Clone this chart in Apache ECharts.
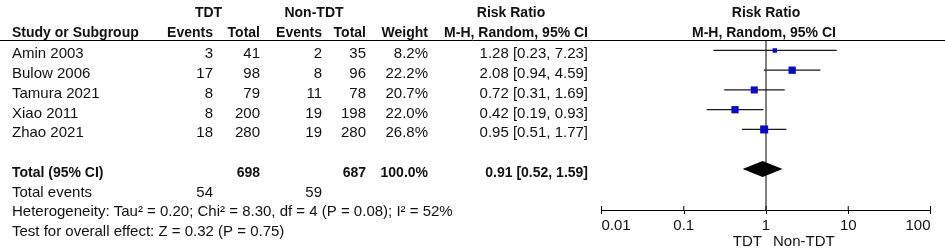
<!DOCTYPE html>
<html>
<head>
<meta charset="utf-8">
<script src="https://cdn.jsdelivr.net/npm/echarts@6/dist/echarts.min.js"></script>
<style>
html,body{margin:0;padding:0;background:#fff;}
#chart{width:945px;height:248px;}
</style>
</head>
<body>
<div id="chart"></div>
<script>
// ---------- data ----------
const studies   = ['Amin 2003', 'Bulow 2006', 'Tamura 2021', 'Xiao 2011', 'Zhao 2021'];
const tdtEvents = [3, 17, 8, 8, 18];
const tdtTotal  = [41, 98, 79, 200, 280];
const nonEvents = [2, 8, 11, 19, 19];
const nonTotal  = [35, 96, 78, 198, 280];
const weights   = [8.2, 22.2, 20.7, 22.0, 26.8];
const rr        = [1.28, 2.08, 0.72, 0.42, 0.95];
const rrLow     = [0.23, 0.94, 0.31, 0.19, 0.51];
const rrHigh    = [7.23, 4.59, 1.69, 0.93, 1.77];
const totalLabel = 'Total (95% CI)';
const totalTdt = 698;
const totalNon = 687;
const totalWeight = 100.0;
const totalRR = [0.91, 0.52, 1.59];   // estimate, low, high
const eventsTdt = 54;
const eventsNon = 59;
const hetText  = 'Heterogeneity: Tau\u00b2 = 0.20; Chi\u00b2 = 8.30, df = 4 (P = 0.08); I\u00b2 = 52%';
const testText = 'Test for overall effect: Z = 0.32 (P = 0.75)';
const tickValues = [0.01, 0.1, 1, 10, 100];
const tickLabels = ['0.01', '0.1', '1', '10', '100'];
const favourLeft = 'TDT';
const favourRight = 'Non-TDT';

// ---------- layout / style ----------
const FONT = "'Liberation Sans', Arial, sans-serif";
const REG = 15, BOLD = 14;
const TXT = '#111';
const BLUE = '#0a0ac8';
const LINE = '#1a1a1a';
const fmtRR = (e, l, h) => e.toFixed(2) + ' [' + l.toFixed(2) + ', ' + h.toFixed(2) + ']';

// column anchors (pixels across the table grid)
const COL = {
  study: [12, 'left'], tdtE: [213, 'right'], tdtT: [260, 'right'],
  nonE: [322, 'right'], nonT: [366, 'right'], w: [428, 'right'], rr: [588, 'right']
};

const cells = [];
function cell(col, row, text, bold, xOverride, alignOverride) {
  const c = COL[col] || [xOverride, alignOverride];
  cells.push({ x: xOverride != null ? xOverride : c[0], align: alignOverride || c[1], row, text: String(text), bold: !!bold });
}
// headers
cell(null, -2, 'TDT', true, 208.5, 'center');
cell(null, -2, 'Non-TDT', true, 314, 'center');
cell(null, -2, 'Risk Ratio', true, 511, 'center');
cell('study', -1, 'Study or Subgroup', true);
cell('tdtE', -1, 'Events', true);
cell('tdtT', -1, 'Total', true);
cell('nonE', -1, 'Events', true);
cell('nonT', -1, 'Total', true);
cell('w', -1, 'Weight', true);
cell('rr', -1, 'M-H, Random, 95% CI', true);
studies.forEach((s, i) => {
  cell('study', i, s);
  cell('tdtE', i, tdtEvents[i]);
  cell('tdtT', i, tdtTotal[i]);
  cell('nonE', i, nonEvents[i]);
  cell('nonT', i, nonTotal[i]);
  cell('w', i, weights[i].toFixed(1) + '%');
  cell('rr', i, fmtRR(rr[i], rrLow[i], rrHigh[i]));
});
const TOTAL_ROW = 6;
cell('study', TOTAL_ROW, totalLabel, true);
cell('tdtT', TOTAL_ROW, totalTdt, true);
cell('nonT', TOTAL_ROW, totalNon, true);
cell('w', TOTAL_ROW, totalWeight.toFixed(1) + '%', true);
cell('rr', TOTAL_ROW, fmtRR(totalRR[0], totalRR[1], totalRR[2]), true);
cell('study', 7, 'Total events');
cell('tdtE', 7, eventsTdt);
cell('nonE', 7, eventsNon);
cell('study', 8, hetText);
cell('study', 9, testText);

const Y_MIN = -0.53, Y_MAX = 8.08;
const chart = echarts.init(document.getElementById('chart'), null, { renderer: 'canvas' });

const option = {
  animation: false,
  backgroundColor: '#fff',
  grid: [
    { left: 0, top: 40, width: 945, height: 170 },
    { left: 601.5, top: 40, width: 329, height: 170 }
  ],
  xAxis: [
    { gridIndex: 0, type: 'value', min: 0, max: 945, position: 'top',
      axisLine: { show: true, onZero: false, lineStyle: { color: '#000', width: 1 } },
      axisTick: { show: false }, axisLabel: { show: false }, splitLine: { show: false } },
    { gridIndex: 1, type: 'log', logBase: 10, min: 0.01, max: 100, position: 'bottom',
      axisLine: { show: true, onZero: false, lineStyle: { color: '#000', width: 1 } },
      axisTick: { show: true, length: 4, lineStyle: { color: '#000', width: 1 } },
      axisLabel: { show: true, margin: 8, fontSize: REG, fontFamily: FONT, color: TXT,
        alignMinLabel: 'left', alignMaxLabel: 'right',
        formatter: v => { const k = tickValues.findIndex(t => Math.abs(Math.log10(t) - Math.log10(v)) < 1e-6); return k >= 0 ? tickLabels[k] : ''; } },
      splitLine: { show: false } }
  ],
  yAxis: [
    { gridIndex: 0, type: 'value', min: Y_MIN, max: Y_MAX, inverse: true, show: false },
    { gridIndex: 1, type: 'value', min: Y_MIN, max: Y_MAX, inverse: true, show: false }
  ],
  series: [
    { // table text
      type: 'custom', xAxisIndex: 0, yAxisIndex: 0, silent: true, clip: false,
      data: cells.map(c => [c.x, c.row]),
      renderItem: (params, api) => {
        const c = cells[params.dataIndex];
        const p = api.coord([api.value(0), api.value(1)]);
        const dy = c.row < 0 ? 2.4 : 3.8;
        return { type: 'text', x: p[0], y: p[1] + dy,
          style: { text: c.text, align: c.align, verticalAlign: 'middle', fill: TXT,
            font: (c.bold ? 'bold ' + BOLD : REG) + 'px ' + FONT } };
      }
    },
    { // reference line at 1, inner ticks, forest headers, favour labels
      type: 'custom', xAxisIndex: 1, yAxisIndex: 1, silent: true, clip: false,
      data: [[1]],
      renderItem: (params, api) => {
        const top = api.coord([1, Y_MIN]);
        const bot = api.coord([1, Y_MAX]);
        const children = [
          { type: 'line', shape: { x1: top[0], y1: top[1], x2: bot[0], y2: bot[1] }, style: { stroke: '#000', lineWidth: 1 } }
        ];
        tickValues.forEach(t => {
          const p = api.coord([t, Y_MAX]);
          children.push({ type: 'line', shape: { x1: p[0], y1: p[1], x2: p[0], y2: p[1] - 4 }, style: { stroke: '#000', lineWidth: 1 } });
        });
        const h1 = api.coord([1, -2]), h2 = api.coord([1, -1]);
        children.push({ type: 'text', x: h1[0], y: h1[1] + 2.4, style: { text: 'Risk Ratio', align: 'center', verticalAlign: 'middle', fill: TXT, font: 'bold ' + BOLD + 'px ' + FONT } });
        children.push({ type: 'text', x: h2[0] - 2, y: h2[1] + 2.4, style: { text: 'M-H, Random, 95% CI', align: 'center', verticalAlign: 'middle', fill: TXT, font: 'bold ' + BOLD + 'px ' + FONT } });
        children.push({ type: 'text', x: bot[0] - 4, y: bot[1] + 32, style: { text: favourLeft, align: 'right', verticalAlign: 'middle', fill: TXT, font: REG + 'px ' + FONT } });
        children.push({ type: 'text', x: bot[0] + 7, y: bot[1] + 32, style: { text: favourRight, align: 'left', verticalAlign: 'middle', fill: TXT, font: REG + 'px ' + FONT } });
        return { type: 'group', children };
      }
    },
    { // study CIs and squares
      type: 'custom', xAxisIndex: 1, yAxisIndex: 1, silent: true, clip: false,
      data: rr.map((r, i) => [rrLow[i], rrHigh[i], r, i, weights[i]]),
      renderItem: (params, api) => {
        const l = api.coord([api.value(0), api.value(3)]);
        const h = api.coord([api.value(1), api.value(3)]);
        const c = api.coord([api.value(2), api.value(3)]);
        const s = 1.55 * Math.sqrt(api.value(4));
        return { type: 'group', children: [
          { type: 'line', shape: { x1: l[0], y1: l[1], x2: h[0], y2: h[1] }, style: { stroke: LINE, lineWidth: 1.2 } },
          { type: 'rect', shape: { x: c[0] - s / 2, y: c[1] - s / 2, width: s, height: s }, style: { fill: BLUE } }
        ] };
      }
    },
    { // pooled diamond
      type: 'custom', xAxisIndex: 1, yAxisIndex: 1, silent: true, clip: false,
      data: [[totalRR[1], totalRR[2], totalRR[0], TOTAL_ROW]],
      renderItem: (params, api) => {
        const y = api.value(3);
        const l = api.coord([api.value(0), y]);
        const h = api.coord([api.value(1), y]);
        const c = api.coord([api.value(2), y]);
        const hh = 8;
        return { type: 'polygon', shape: { points: [[l[0], l[1]], [c[0], c[1] - hh], [h[0], h[1]], [c[0], c[1] + hh]] }, style: { fill: '#000' } };
      }
    }
  ]
};
chart.setOption(option);
</script>
</body>
</html>
